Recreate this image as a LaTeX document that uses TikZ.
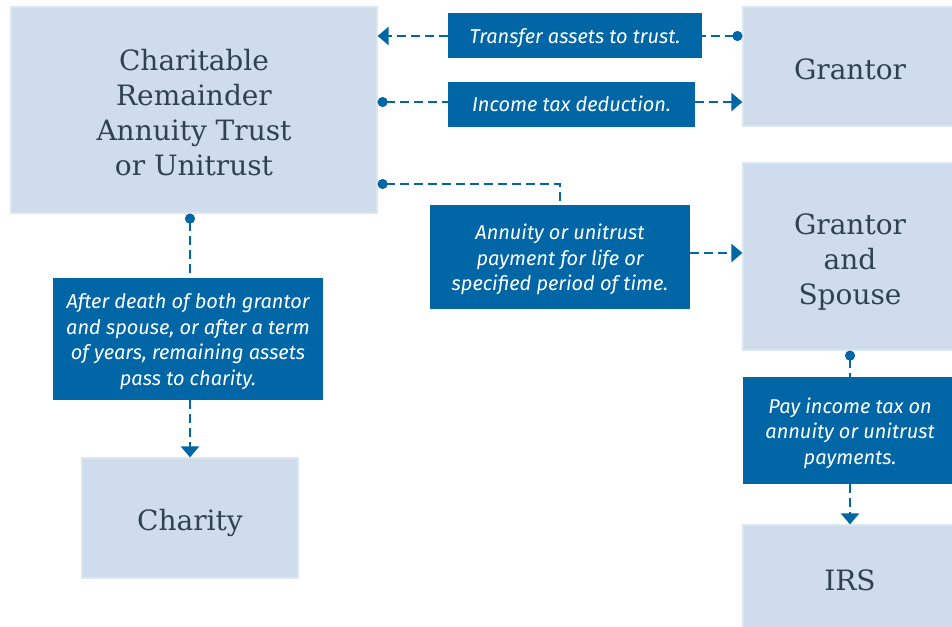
\documentclass[tikz,border=0pt]{standalone}
\usepackage{fontspec}
\newfontfamily\boxfont{DejaVu Serif}
\newfontfamily\labfont{Fira Sans}
\usetikzlibrary{arrows.meta}
\definecolor{lightbox}{HTML}{CFDCEB}
\definecolor{lightedge}{HTML}{DCE6F1}
\definecolor{darkblue}{HTML}{0066A6}
\definecolor{boxtext}{HTML}{2F4251}
\newcommand{\entxt}[2]{\raisebox{-#1}[\height][\depth]{\begin{tabular}{@{}c@{}}#2\end{tabular}}}
\tikzset{
  entity/.style={draw=lightedge, line width=1.2pt, fill=lightbox, text=boxtext, inner sep=0pt, align=center,
    font=\boxfont\fontsize{28}{35}\selectfont},
  labelbox/.style={fill=darkblue, text=white, inner sep=0pt, align=center,
    font=\labfont\itshape\fontsize{20}{25.5}\selectfont},
  conn/.style={draw=darkblue, line width=2.4pt, dash pattern=on 9pt off 5pt},
  dotstart/.style={{Circle[length=10pt]}-},
  arrowend/.style={-{Triangle[length=11pt,width=18pt]}},
}
\begin{document}
\begin{tikzpicture}[x=1pt,y=-1pt]
\useasboundingbox (0,0) rectangle (952,626);
\clip (0,0) rectangle (952,626);
% entities
\node[entity, minimum width=366pt, minimum height=206pt] (crt) at (194,110) {\entxt{6pt}{Charitable\\Remainder\\Annuity Trust\\or Unitrust}};
\node[entity, minimum width=214pt, minimum height=119pt] (grantor) at (850,66.5) {\entxt{6pt}{Grantor}};
\node[entity, minimum width=214pt, minimum height=187pt] (gs) at (850,256.5) {\entxt{6pt}{Grantor\\and\\Spouse}};
\node[entity, minimum width=216pt, minimum height=120pt] (charity) at (190,518) {\entxt{5pt}{Charity}};
\node[entity, minimum width=214pt, minimum height=110pt] (irs) at (850,580) {\entxt{3pt}{IRS}};
% labels
\node[labelbox, minimum width=254pt, minimum height=45pt] (l1) at (575,35.5) {\entxt{3pt}{Transfer assets to trust.}};
\node[labelbox, minimum width=247pt, minimum height=45pt] (l2) at (571.5,104.5) {\entxt{2pt}{Income tax deduction.}};
\node[labelbox, minimum width=260pt, minimum height=104pt] (l3) at (560,257) {\entxt{3pt}{Annuity or unitrust\\payment for life or\\specified period of time.}};
\node[labelbox, minimum width=270pt, minimum height=122pt] (l4) at (188,339) {\entxt{3pt}{After death of both grantor\\and spouse, or after a term\\of years, remaining assets\\pass to charity.}};
\node[labelbox, minimum width=214pt, minimum height=107pt] (l5) at (850,430.5) {\entxt{3pt}{Pay income tax on\\annuity or unitrust\\payments.}};
% coordinates on entity edges
\coordinate (g1) at (grantor.west |- 0,36);
\coordinate (c1) at (crt.east |- 0,36);
\coordinate (c2) at (crt.east |- 0,102);
\coordinate (g2) at (grantor.west |- 0,102);
\coordinate (c3) at (crt.east |- 0,184);
\coordinate (l3r) at (l3.east |- 0,253);
\coordinate (gs3) at (gs.west |- 0,253);
\coordinate (cs) at (crt.south -| 190,0);
% connectors
\draw[conn, dotstart] (g1) -- (l1.east |- g1);
\draw[conn, arrowend] (l1.west |- c1) -- (c1);
\draw[conn, dotstart] (c2) -- (l2.west |- c2);
\draw[conn, arrowend] (l2.east |- g2) -- (g2);
\draw[conn, dotstart] (c3) -| (l3.north);
\draw[conn, arrowend] (l3r) -- (gs3);
\draw[conn, dotstart] (cs) -- (l4.north -| cs);
\draw[conn, arrowend] (l4.south -| cs) -- (charity.north);
\draw[conn, dotstart] (gs.south) -- (l5.north);
\draw[conn, arrowend] (l5.south) -- (irs.north);
\end{tikzpicture}
\end{document}
